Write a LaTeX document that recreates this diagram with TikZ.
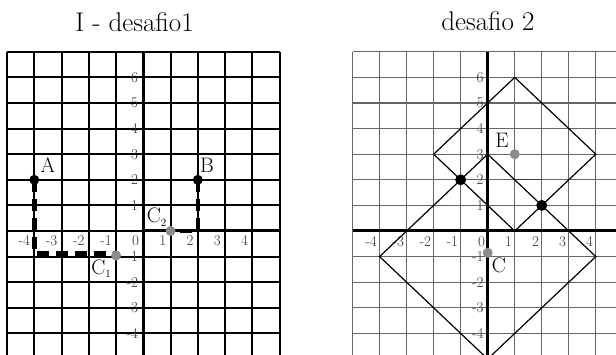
\documentclass[tikz,border=0pt]{standalone}
\tikzset{
  gridA/.style={line width=2.1pt, black},
  axisA/.style={line width=3.4pt, black},
  gridB/.style={line width=1.1pt, black!60},
  axisB/.style={line width=3pt, black},
  sq/.style={line width=1.2pt, black},
  dashpath/.style={line width=4.5pt, dash pattern=on 12pt off 7pt},
  bdot/.style={circle, fill=black, inner sep=0pt, minimum size=10pt},
  gdot/.style={circle, fill=black!45, inner sep=0pt, minimum size=10pt},
  ticklab/.style={font=\fontsize{15}{15}\selectfont, text=black!80, inner sep=0pt},
  ptlab/.style={font=\fontsize{21}{21}\selectfont, inner sep=0pt},
  titlelab/.style={font=\fontsize{27}{27}\selectfont, inner sep=0pt},
}
\begin{document}
\begin{tikzpicture}
\useasboundingbox (0,0) rectangle (616pt,-355pt);
\clip (0,0) rectangle (616pt,-355pt);

\node[titlelab, anchor=base] (t1) at (134.5pt,-32pt) {I - desafio1};
\node[titlelab, anchor=base] (t2) at (488pt,-31pt) {desafio 2};

% ---------- left graph ----------
\begin{scope}[shift={(143.3pt,-231pt)}, x=27.25pt, y=25.6pt]
  \foreach \i in {-5,...,5} \draw[gridA] (\i,7) -- (\i,-5.5);
  \foreach \j in {-5,...,7} \draw[gridA] (-5,\j) -- (5,\j);
  \draw[axisA] (0,7) -- (0,-5.5);
  \draw[line width=3pt] (0,0) -- (5,0);
  \foreach \i in {-4,...,4}
    \node[ticklab, anchor=north east] (lx\i) at ([xshift=-4pt,yshift=-4pt]\i,0) {\i};
  \foreach \j in {-4,-3,-2,-1,1,2,3,4,5,6}
    \node[ticklab, anchor=east] (ly\j) at ([xshift=-5pt]0,\j) {\j};
  \coordinate (A) at (-4,2);
  \coordinate (B) at (2,2);
  \coordinate (C1) at (-1,-0.96);
  \coordinate (C2) at (1,0);
  \coordinate (A1) at (-4,-0.88);
  \coordinate (B1) at (2,0);
  \draw[dashpath] (A) -- (A1) -- (A1 -| C1);
  \draw[dashpath] (B) -- (B1) -- (C2);
  \node[bdot] (Ad) at (A) {};
  \node[bdot] (Bd) at (B) {};
  \node[gdot] (C1d) at (C1) {};
  \node[gdot] (C2d) at (C2) {};
  \node[ptlab, anchor=base west] (lA) at ([xshift=6pt,yshift=7pt]A) {A};
  \node[ptlab, anchor=base west] (lB) at ([xshift=2pt,yshift=7pt]B) {B};
  \node[ptlab, anchor=base east] (lC1) at ([xshift=-4.5pt,yshift=-19pt]C1) {C$_{\scriptscriptstyle 1}$};
  \node[ptlab, anchor=base east] (lC2) at ([xshift=-3.5pt,yshift=8pt]C2) {C$_{\scriptscriptstyle 2}$};
\end{scope}

% ---------- right graph ----------
\begin{scope}[shift={(487.7pt,-231pt)}, x=27.03pt, y=25.6pt]
  \foreach \i in {-5,...,5} \draw[gridB] (\i,7) -- (\i,-5.5);
  \foreach \j in {-5,...,7} \draw[gridB] (-5,\j) -- (5.5,\j);
  \draw[line width=1.2pt, black!75] (1,2) -- (2,2);
  \draw[axisB] (0,7) -- (0,-5.5);
  \draw[axisB] (-5,0) -- (5.5,0);
  \foreach \i in {-4,...,4}
    \node[ticklab, anchor=north east] (rx\i) at ([xshift=-2.5pt,yshift=-5pt]\i,0) {\i};
  \foreach \j in {-4,-3,-2,-1,1,2,3,4,5,6}
    \node[ticklab, anchor=east] (ry\j) at ([xshift=-4pt]0,\j) {\j};
  \coordinate (P1) at (1,6);
  \coordinate (P2) at (4,3);
  \coordinate (P3) at (1,0);
  \coordinate (P4) at (-2,3);
  \coordinate (Q1) at (0,3);
  \coordinate (Q2) at (4,-1);
  \coordinate (Q3) at (0,-5);
  \coordinate (Q4) at (-4,-1);
  \draw[sq] (P1) -- (P2) -- (P3) -- (P4) -- cycle;
  \draw[sq] (Q1) -- (Q2) -- (Q3) -- (Q4) -- cycle;
  \node[bdot, minimum size=11pt] (X1) at (-1,2) {};
  \node[bdot, minimum size=11pt] (X2) at (2,1) {};
  \coordinate (E) at (1,3);
  \coordinate (C) at (0,-0.85);
  \node[gdot] (Ed) at (E) {};
  \node[gdot] (Cd) at (C) {};
  \node[ptlab, anchor=base east] (lE) at ([xshift=-6pt,yshift=7pt]E) {E};
  \node[ptlab, anchor=base west] (lC) at ([xshift=4pt,yshift=-19.5pt]C) {C};
\end{scope}
\end{tikzpicture}
\end{document}
